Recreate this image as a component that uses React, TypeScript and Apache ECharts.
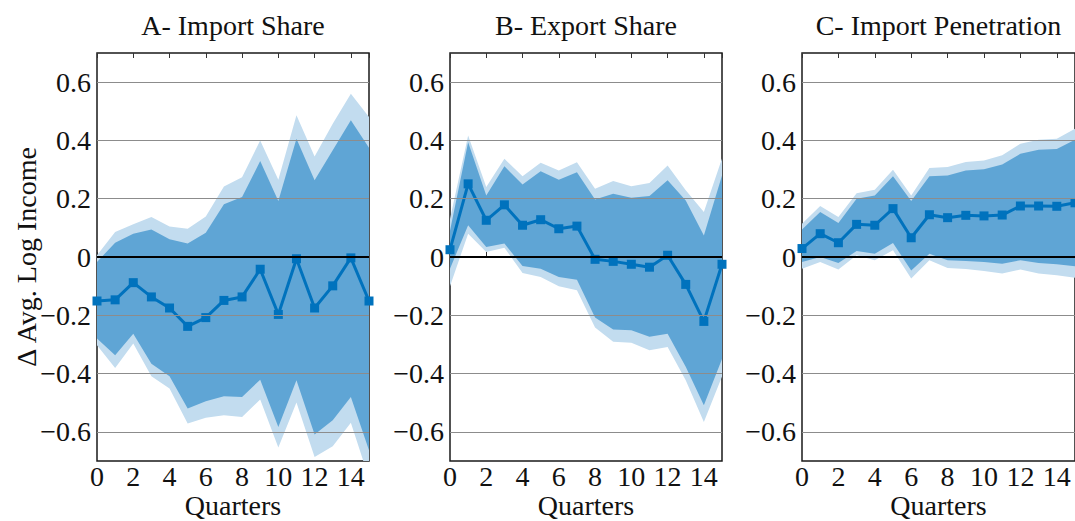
import React, { useEffect, useRef } from "react";
import * as echarts from "echarts";

const quarters = [0, 1, 2, 3, 4, 5, 6, 7, 8, 9, 10, 11, 12, 13, 14, 15];
const yTicks = [-0.6, -0.4, -0.2, 0.2, 0.4, 0.6];
const titles = ["A- Import Share", "B- Export Share", "C- Import Penetration"];
const xName = "Quarters";
const yName = "\u0394 Avg. Log Income";

// Panel A - Import Share
const meanA = [-0.151, -0.147, -0.088, -0.137, -0.175, -0.238, -0.208, -0.149, -0.137, -0.042, -0.197, -0.006, -0.175, -0.099, -0.003, -0.151];
const darkUpA = [-0.017, 0.049, 0.08, 0.094, 0.061, 0.046, 0.083, 0.181, 0.206, 0.329, 0.192, 0.406, 0.263, 0.366, 0.469, 0.375];
const lightUpA = [0.006, 0.086, 0.112, 0.137, 0.105, 0.097, 0.139, 0.242, 0.274, 0.4, 0.265, 0.486, 0.345, 0.457, 0.56, 0.48];
const darkLoA = [-0.28, -0.337, -0.263, -0.366, -0.409, -0.52, -0.495, -0.478, -0.48, -0.421, -0.583, -0.423, -0.609, -0.56, -0.48, -0.663];
const lightLoA = [-0.303, -0.381, -0.297, -0.409, -0.451, -0.571, -0.552, -0.543, -0.549, -0.489, -0.654, -0.499, -0.686, -0.649, -0.569, -0.76];

// Panel B - Export Share
const meanB = [0.025, 0.251, 0.126, 0.179, 0.109, 0.128, 0.097, 0.106, -0.008, -0.015, -0.025, -0.035, 0.006, -0.094, -0.221, -0.025];
const darkUpB = [0.09, 0.394, 0.211, 0.311, 0.249, 0.294, 0.265, 0.291, 0.197, 0.217, 0.203, 0.209, 0.263, 0.194, 0.074, 0.28];
const lightUpB = [0.13, 0.417, 0.24, 0.337, 0.277, 0.323, 0.297, 0.325, 0.234, 0.261, 0.243, 0.254, 0.314, 0.229, 0.154, 0.338];
const darkLoB = [-0.04, 0.109, 0.034, 0.046, -0.031, -0.04, -0.069, -0.078, -0.208, -0.249, -0.251, -0.274, -0.263, -0.377, -0.509, -0.35];
const lightLoB = [-0.1, 0.08, 0.017, 0.032, -0.055, -0.069, -0.1, -0.114, -0.242, -0.291, -0.294, -0.32, -0.309, -0.423, -0.566, -0.41];

// Panel C - Import Penetration
const meanC = [0.029, 0.08, 0.049, 0.112, 0.109, 0.166, 0.066, 0.145, 0.135, 0.143, 0.141, 0.144, 0.175, 0.175, 0.174, 0.186];
const darkUpC = [0.094, 0.154, 0.117, 0.2, 0.211, 0.277, 0.192, 0.277, 0.28, 0.297, 0.301, 0.317, 0.354, 0.368, 0.371, 0.402];
const lightUpC = [0.114, 0.175, 0.137, 0.219, 0.231, 0.299, 0.211, 0.305, 0.309, 0.326, 0.331, 0.349, 0.389, 0.402, 0.406, 0.44];
const darkLoC = [-0.017, 0, -0.021, 0.021, 0.011, 0.048, -0.046, 0.011, -0.011, -0.014, -0.017, -0.023, -0.011, -0.021, -0.025, -0.032];
const lightLoC = [-0.04, -0.017, -0.043, 0.006, -0.011, 0.023, -0.074, -0.011, -0.038, -0.041, -0.048, -0.057, -0.043, -0.057, -0.063, -0.071];

const FONT = "Liberation Serif";
const LINE = "#0072bd";
const DARK = "#5fa5d5";
const LIGHT = "#c2dcef";

const panels = [
  { mean: meanA, dUp: darkUpA, dLo: darkLoA, lUp: lightUpA, lLo: lightLoA },
  { mean: meanB, dUp: darkUpB, dLo: darkLoB, lUp: lightUpB, lLo: lightLoB },
  { mean: meanC, dUp: darkUpC, dLo: darkLoC, lUp: lightUpC, lLo: lightLoC },
];

const gridLefts = [97, 450, 802];
const gridWidths = [272, 272, 273];
const GRID_TOP = 53;
const GRID_H = 408;

function bandSeries(idx: number, up: number[], lo: number[], color: string, z: number) {
  return {
    type: "custom",
    xAxisIndex: idx * 2,
    yAxisIndex: idx,
    z,
    clip: true,
    silent: true,
    data: [[0, 0]],
    renderItem: (params: any, api: any) => {
      const pts: number[][] = [];
      quarters.forEach((q, i) => pts.push(api.coord([q, up[i]])));
      for (let i = quarters.length - 1; i >= 0; i--) pts.push(api.coord([quarters[i], lo[i]]));
      return {
        type: "polygon",
        shape: { points: pts },
        style: { fill: color, stroke: null },
      };
    },
  };
}

export default function App() {
  const ref = useRef<HTMLDivElement>(null);
  useEffect(() => {
    if (!ref.current) return;
    const chart = echarts.init(ref.current, undefined, { renderer: "svg" });
    const grid: any[] = [];
    const xAxis: any[] = [];
    const yAxis: any[] = [];
    const series: any[] = [];
    const graphic: any[] = [];
    panels.forEach((p, k) => {
      grid.push({
        left: gridLefts[k],
        top: GRID_TOP,
        width: gridWidths[k],
        height: GRID_H,
        containLabel: false,
        outerBoundsMode: "none",
        show: true,
        borderColor: "#1a1a1a",
        borderWidth: 1.5,
        backgroundColor: "transparent",
      });
      xAxis.push({
        type: "value",
        gridIndex: k,
        min: 0,
        max: 15,
        interval: 2,
        axisLine: { show: false },
        axisTick: { show: true, inside: true, length: 5, lineStyle: { color: "#333" } },
        splitLine: { show: false },
        axisLabel: {
          margin: 4,
          fontFamily: FONT,
          fontSize: 28,
          lineHeight: 22,
          color: "#111",
          showMaxLabel: false,
          formatter: (v: number) => (Math.round(v) % 2 === 0 && v <= 14 ? String(v) : ""),
        },
      });
      xAxis.push({
        type: "value",
        gridIndex: k,
        position: "top",
        min: 0,
        max: 15,
        interval: 2,
        axisLine: { show: false },
        axisTick: { show: true, inside: true, length: 5, lineStyle: { color: "#333" } },
        splitLine: { show: false },
        axisLabel: { show: false },
      });
      yAxis.push({
        type: "value",
        gridIndex: k,
        min: -0.7,
        max: 0.7,
        interval: 0.1,
        axisLine: { show: false },
        axisTick: { show: false },
        splitLine: { show: false },
        axisLabel: {
          margin: 6,
          fontFamily: FONT,
          fontSize: 28,
          color: "#111",
          formatter: (v: number) => {
            const t = Math.round(v * 10);
            if (Math.abs(t) % 2 !== 0 || Math.abs(t) > 6) return "";
            if (t === 0) return "0";
            return (t < 0 ? "\u2212" : "") + (Math.abs(t) / 10).toFixed(1);
          },
        },
      });
      series.push(bandSeries(k, p.lUp, p.lLo, LIGHT, 1));
      series.push(bandSeries(k, p.dUp, p.dLo, DARK, 2));
      series.push({
        type: "line",
        xAxisIndex: k * 2,
        yAxisIndex: k,
        z: 3,
        data: [],
        silent: true,
        markLine: {
          silent: true,
          symbol: "none",
          label: { show: false },
          animation: false,
          data: [
            ...yTicks.map((v) => ({ yAxis: v, lineStyle: { color: "#8c8c8c", width: 1, type: "solid" } })),
            { yAxis: 0, lineStyle: { color: "#000", width: 2, type: "solid" } },
          ],
        },
      });
      series.push({
        type: "line",
        xAxisIndex: k * 2,
        yAxisIndex: k,
        z: 4,
        clip: false,
        data: quarters.map((q, i) => [q, p.mean[i]]),
        symbol: "rect",
        symbolSize: 9,
        showSymbol: true,
        lineStyle: { color: LINE, width: 3 },
        itemStyle: { color: LINE },
      });
      const cx = gridLefts[k] + gridWidths[k] / 2;
      graphic.push({
        type: "text",
        x: cx,
        y: 25,
        style: {
          text: titles[k],
          fontFamily: FONT,
          fontSize: 28,
          fill: "#111",
          textAlign: "center",
          textVerticalAlign: "middle",
        },
      });
      graphic.push({
        type: "text",
        x: cx,
        y: 505,
        style: {
          text: xName,
          fontFamily: FONT,
          fontSize: 28,
          lineHeight: 24,
          fill: "#111",
          textAlign: "center",
          textVerticalAlign: "middle",
        },
      });
    });
    graphic.push({
      type: "text",
      x: 26,
      y: 257,
      rotation: Math.PI / 2,
      style: {
        text: yName,
        fontFamily: FONT,
        fontSize: 28,
        fill: "#111",
        textAlign: "center",
        textVerticalAlign: "middle",
      },
    });
    chart.setOption({
      animation: false,
      backgroundColor: "#fff",
      grid,
      xAxis,
      yAxis,
      series,
      graphic,
    });
    return () => chart.dispose();
  }, []);
  return (
    <div
      ref={ref}
      style={{ position: "fixed", left: 0, top: 0, width: 1075, height: 521 }}
    />
  );
}
